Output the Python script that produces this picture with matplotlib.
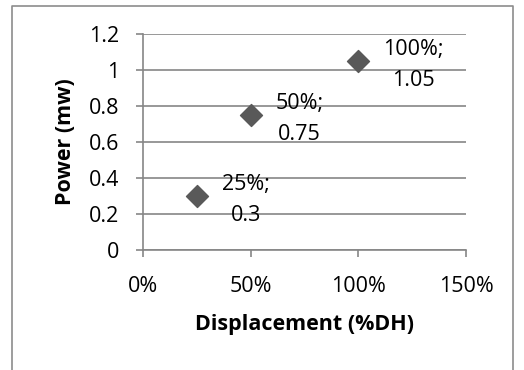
import matplotlib
matplotlib.use("Agg")
import matplotlib.pyplot as plt
from matplotlib.lines import Line2D
from matplotlib.ticker import PercentFormatter

plt.rcParams['font.family'] = ['Open Sans', 'DejaVu Sans']

# data
displacement = [25, 50, 100]      # %DH
power = [0.3, 0.75, 1.05]         # mw
point_labels = ["25%;\n0.3", "50%;\n0.75", "100%;\n1.05"]
x_ticks = [0, 50, 100, 150]
y_ticks = [0, 0.2, 0.4, 0.6, 0.8, 1, 1.2]
y_tick_labels = ["0", "0.2", "0.4", "0.6", "0.8", "1", "1.2"]

grid_col = "#868686"
mark_col = "#595959"
fs = 15.5

fig = plt.figure(figsize=(5.24, 3.70), dpi=100)
ax = fig.add_axes([143/524, 1 - 250/370, 323/524, 216/370])

ax.scatter(displacement, power, marker="D", s=125, color=mark_col, zorder=3)
for x, y, lab in zip(displacement, power, point_labels):
    ax.annotate(lab, (x, y), xytext=(18, -3), textcoords="offset points",
                ha="left", va="center", multialignment="center",
                fontsize=fs, linespacing=1.65)

ax.set_xlim(0, 150)
ax.set_ylim(0, 1.2)
ax.set_xticks(x_ticks)
ax.xaxis.set_major_formatter(PercentFormatter(decimals=0))
ax.set_yticks(y_ticks)
ax.set_yticklabels(y_tick_labels)
ax.yaxis.grid(True, color=grid_col, linewidth=1.2)
ax.set_axisbelow(True)

for s in ["top", "right"]:
    ax.spines[s].set_visible(False)
for s in ["left", "bottom"]:
    ax.spines[s].set_color(grid_col)
    ax.spines[s].set_linewidth(1.2)
ax.tick_params(axis="both", colors=grid_col, length=5, width=1.2,
               labelcolor="black", labelsize=fs)
ax.tick_params(axis="y", pad=12)
ax.tick_params(axis="x", pad=14)

ax.set_xlabel("Displacement (%DH)", fontsize=fs, fontweight="bold", labelpad=12)
ax.set_ylabel("Power (mw)", fontsize=fs, fontweight="bold", labelpad=9)

# outer chart border (bottom edge cut off in the original)
bx0, bx1, by0 = 11.5/524, 512.5/524, 1 - 5.5/370
fig.add_artist(Line2D([bx0, bx0, bx1, bx1], [0, by0, by0, 0],
                      transform=fig.transFigure, color="#8c8c8c", linewidth=1.2))

fig.savefig("out.png", dpi=100)
